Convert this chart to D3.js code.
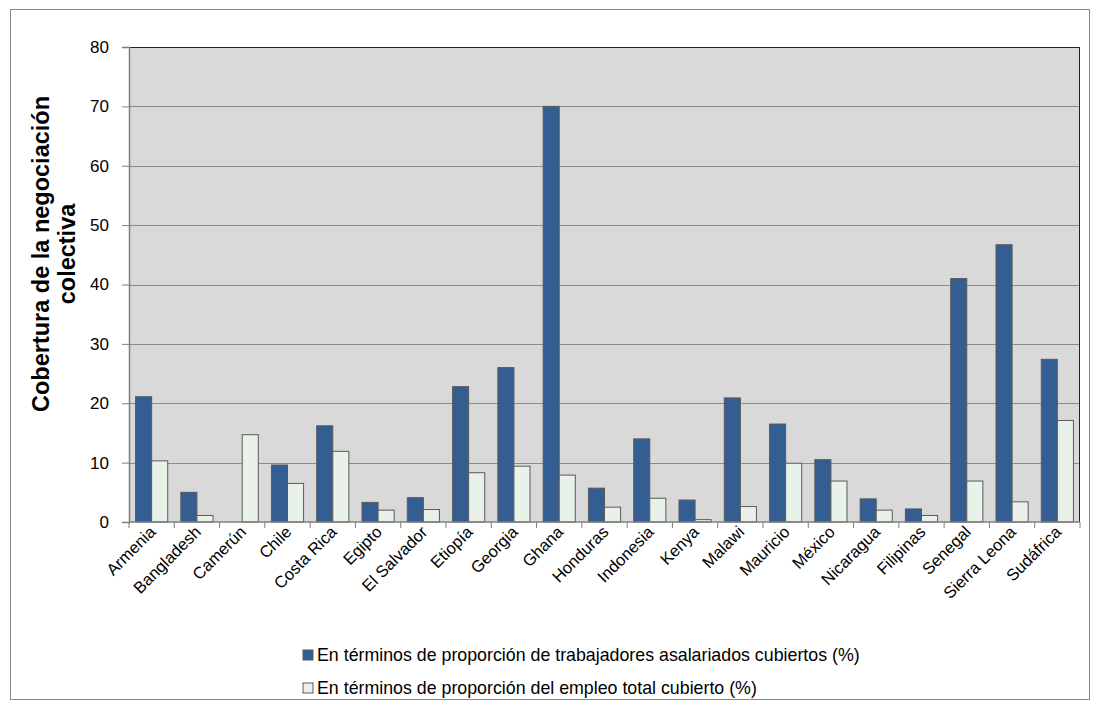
<!DOCTYPE html>
<html><head><meta charset="utf-8">
<script src="https://cdn.jsdelivr.net/npm/d3@7"></script>
<style>body{margin:0;background:#fff;font-family:"Liberation Sans",Arial,sans-serif;}</style>
</head><body><svg id="c" width="1099" height="711"></svg>
<script>
const categories = ["Armenia","Bangladesh","Camerún","Chile","Costa Rica","Egipto","El Salvador","Etiopía","Georgia","Ghana","Honduras","Indonesia","Kenya","Malawi","Mauricio","México","Nicaragua","Filipinas","Senegal","Sierra Leona","Sudáfrica"];
const wageEarners = [21.1,5.0,null,9.6,16.2,3.3,4.1,22.8,26.0,70.0,5.7,14.0,3.7,20.9,16.5,10.5,3.9,2.2,41.0,46.7,27.4];
const totalEmployment = [10.3,1.1,14.7,6.5,11.9,2.0,2.1,8.3,9.4,7.9,2.5,4.0,0.4,2.6,9.9,6.9,2.0,1.1,6.9,3.4,17.1];
const seriesNames = ["En términos de proporción de trabajadores asalariados cubiertos (%)","En términos de proporción del empleo total cubierto (%)"];
const yTicks = [0,10,20,30,40,50,60,70,80];
const yTitle = ["Cobertura de la negociación","colectiva"];

const svg = d3.select("#c");
const colors = ["#345E91","#E8F2E8"];
svg.append("rect").attr("x",10.5).attr("y",9.5).attr("width",1079).attr("height",690).attr("fill","#fff").attr("stroke","#888");

const L=129, R=1080, T=47, B=522;
const x = d3.scaleBand().domain(categories).range([L,R]).paddingInner(0.29).paddingOuter(0.145);
const xb = d3.scaleBand().domain(categories).range([L,R]);
const y = d3.scaleLinear().domain([0,80]).range([B,T]);

svg.append("rect").attr("x",L).attr("y",T).attr("width",R-L).attr("height",B-T).attr("fill","#D9D9D9");
svg.append("g").selectAll("line").data(yTicks.filter(d=>d>0)).join("line")
  .attr("x1",L).attr("x2",R).attr("y1",d=>Math.round(y(d))+0.5).attr("y2",d=>Math.round(y(d))+0.5)
  .attr("stroke","#8C8C8C").attr("stroke-width",1.2);
svg.append("path").attr("d",`M${L},${T+0.5}H${R-0.5}V${B}`).attr("fill","none").attr("stroke","#222").attr("stroke-width",1);

const inner = d3.scaleBand().domain([0,1]).range([0,x.bandwidth()]);
const data = [];
categories.forEach((c,i)=>{
  [wageEarners[i],totalEmployment[i]].forEach((v,s)=>{ if(v!=null) data.push({c,s,v}); });
});
svg.append("g").selectAll("rect").data(data).join("rect")
  .attr("x",d=>x(d.c)+inner(d.s)).attr("width",inner.bandwidth())
  .attr("y",d=>y(d.v)).attr("height",d=>B-y(d.v))
  .attr("fill",d=>colors[d.s]).attr("stroke","#5A5A5A").attr("stroke-width",1);

// y axis
const ya = svg.append("g").attr("transform",`translate(${L},0)`)
  .call(d3.axisLeft(y).tickValues(yTicks).tickSize(7).tickPadding(13));
ya.select(".domain").attr("stroke","#7F7F7F").attr("stroke-width",1.5);
ya.selectAll(".tick line").attr("stroke","#7F7F7F");
ya.selectAll("text").attr("font-size",17).attr("fill","#000").attr("font-family","Liberation Sans, Arial");

// x axis
const xa = svg.append("g").attr("transform",`translate(0,${B})`);
xa.append("line").attr("x1",L).attr("x2",R).attr("stroke","#7F7F7F").attr("stroke-width",1.5);
xa.selectAll(".tk").data(categories.concat(["__end"])).join("line")
  .attr("x1",(d,i)=>L+i*xb.step()).attr("x2",(d,i)=>L+i*xb.step()).attr("y1",0).attr("y2",6)
  .attr("stroke","#7F7F7F");
xa.selectAll(".lbl").data(categories).join("text")
  .attr("transform",d=>`translate(${xb(d)+xb.bandwidth()/2+5},${11}) rotate(-45)`)
  .attr("text-anchor","end").attr("font-size",16.5).attr("fill","#000").text(d=>d);

// y title
const yt = svg.append("text").attr("transform","translate(49,254) rotate(-90)")
  .attr("text-anchor","middle").attr("font-size",23.5).attr("font-weight","bold");
yt.selectAll("tspan").data(yTitle).join("tspan").attr("x",0).attr("dy",(d,i)=>i?26:0).text(d=>d);

// legend
const lg = svg.append("g").attr("transform","translate(303,0)");
seriesNames.forEach((n,i)=>{
  const yy = 655 + i*33;
  lg.append("rect").attr("x",0).attr("y",yy-5).attr("width",10).attr("height",10)
    .attr("fill",colors[i]).attr("stroke","#5A5A5A");
  lg.append("text").attr("x",14).attr("y",yy+6).attr("font-size",17.8).text(n);
});
</script></body></html>
